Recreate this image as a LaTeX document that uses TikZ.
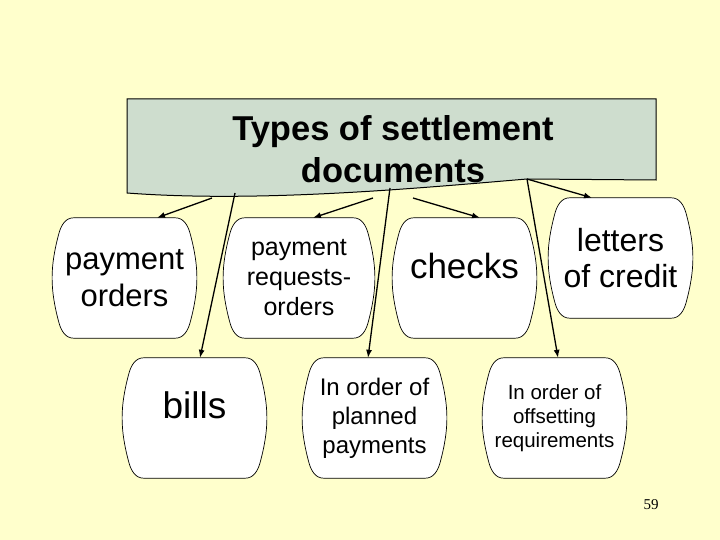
\documentclass[tikz,border=0pt]{standalone}
\usepackage{fontspec}
\setmainfont{Liberation Sans}
\newfontfamily\pagefont{Liberation Serif}
\usetikzlibrary{arrows.meta,calc}
\pgfdeclarelayer{back}
\pgfsetlayers{back,main}
\definecolor{paper}{RGB}{255,255,204}
\definecolor{headfill}{RGB}{206,221,206}
\newcommand{\fs}[2]{\fontsize{#1}{#2}\selectfont}

\begin{document}
\begin{tikzpicture}[x=1pt,y=1pt,kind/.style={minimum width=145pt,minimum height=120pt,inner sep=0pt,align=center},lifted/.style={text height=0pt,text depth=0pt},rim/.style={draw=black,line width=0.7pt,fill=white},link/.style={line width=1.3pt,-{Latex[length=8pt,width=6pt]}}]
\useasboundingbox (0,0) rectangle (720,-540);
% header box with wavy lower edge
\draw[fill=headfill,line width=1pt] (127,-99) -- (656,-99) -- (656,-180) -- (527,-179) .. controls (420,-188) and (260,-203) .. (127,-193) -- cycle;
\node[font={\fs{34.5}{42}\bfseries},align=center,inner sep=0pt] (head) at (393,-149) {Types of settlement\\documents};
\coordinate (f-po) at (212,-198);
\coordinate (f-bi) at (235,-193);
\coordinate (f-pr) at (373,-198);
\coordinate (f-pp) at (390,-188);
\coordinate (f-ch) at (413,-198);
\coordinate (f-lc) at (527,-179);
\node[kind,font={\fs{31}{37}}] (po) at (124.5,-278) {payment\\orders};
\node[kind,minimum width=152pt,font={\fs{25}{30}}] (pr) at (299,-278) {payment\\requests-\\orders};
\node[kind,lifted,font={\fs{35}{42}}] (ch) at (464.5,-278) {checks};
\node[kind,font={\fs{32}{36}}] (lc) at (620.5,-258) {letters\\of credit};
\node[kind,lifted,font={\fs{37}{44}}] (bi) at (194.5,-418) {bills};
\node[kind,font={\fs{24}{29}}] (pp) at (374.5,-418) {In order of\\planned\\payments};
\node[kind,font={\fs{20.5}{24}}] (or) at (554.5,-418) {In order of\\offsetting\\requirements};
\begin{pgfonlayer}{back}
\fill[paper] (0,0) rectangle (720,-540);
\foreach \b in {po,pr,ch,lc,bi,pp,or}
  \draw[rim] let \p1=(\b.north west), \p2=(\b.south east) in (\x1+22,\y1) -- (\x2-22,\y1) to[out=0,in=105] (\x2-7,\y1-16) to[out=-75,in=75] (\x2-7,\y2+16) to[out=-105,in=0] (\x2-22,\y2) -- (\x1+22,\y2) to[out=180,in=-75] (\x1+7,\y2+16) to[out=105,in=-105] (\x1+7,\y1-16) to[out=75,in=180] (\x1+22,\y1) -- cycle;
\end{pgfonlayer}
\draw[link] (f-po) -- ([xshift=32.5pt]po.north);
\draw[link] (f-bi) -- ([xshift=5.5pt]bi.north);
\draw[link] (f-pr) -- ([xshift=14pt]pr.north);
\draw[link] (f-pp) -- ([xshift=-6.5pt]pp.north);
\draw[link] (f-ch) -- ([xshift=15.5pt]ch.north);
\draw[link] (f-lc) -- ([xshift=-28.5pt]lc.north);
\draw[link] (f-lc) -- ([xshift=3.5pt]or.north);
\node[font={\pagefont\fs{15}{18}}] (pg) at (651,-505) {59};
\end{tikzpicture}
\end{document}
